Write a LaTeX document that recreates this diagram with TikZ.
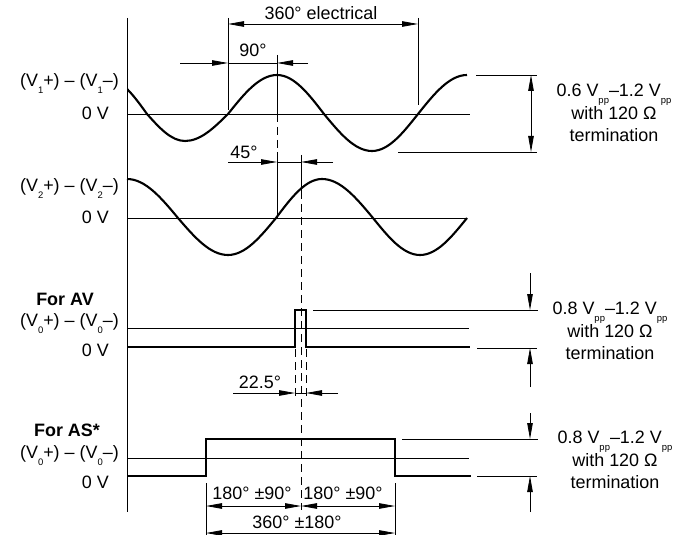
\documentclass[tikz,border=0pt]{standalone}
\usepackage{fontspec}
\setmainfont{Liberation Sans}
\usetikzlibrary{arrows.meta, positioning, calc}

\newcommand\lowsub[1]{\smash{\raisebox{-6.5bp}{\fontsize{9.5}{10}\selectfont #1}}}

\begin{document}
\begin{tikzpicture}[
  x=1bp, y=-1bp,
  font=\fontsize{18}{22.5}\selectfont,
  extline/.style={line width=0.8bp},
  wave/.style={line width=2.1bp, line join=round},
  pulse/.style={line width=2bp, line join=miter},
  refdash/.style={line width=0.8bp, dash pattern=on 8bp off 5bp},
  onearrow/.style={line width=0.8bp, -{Triangle[length=16bp,width=5.5bp]}},
  twoarrow/.style={line width=0.8bp, {Triangle[length=16bp,width=5.5bp]}-{Triangle[length=16bp,width=5.5bp]}},
  sig/.style={anchor=east, inner sep=0pt},
  lbl/.style={inner sep=0pt},
  rangelbl/.style={align=center, inner sep=0pt}
]
  \useasboundingbox (0,0) rectangle (689,535);

  % axis
  \draw[extline] (127,18) coordinate (axtop) -- (127,512) coordinate (axbot);

  % signal names
  \node[sig] (v1) at (119,82) {(V\lowsub{1}+) – (V\lowsub{1}–)};
  \node[sig] (z1) at (109,113) {0 V};
  \node[sig] (v2) at (119,187) {(V\lowsub{2}+) – (V\lowsub{2}–)};
  \node[sig] (z2) at (109,217) {0 V};
  \node[lbl, font=\fontsize{18}{22.5}\selectfont\bfseries] (av) at (65,299) {For AV};
  \node[sig] (v0a) at (119,322) {(V\lowsub{0}+) – (V\lowsub{0}–)};
  \node[sig] (z0a) at (109,350) {0 V};
  \node[lbl, font=\fontsize{18}{22.5}\selectfont\bfseries] (as) at (67,430) {For AS*};
  \node[sig] (v0b) at (119,454) {(V\lowsub{0}+) – (V\lowsub{0}–)};
  \node[sig] (z0b) at (109,482) {0 V};

  % channel 1
  \draw[extline] (127,114) -- (470,114);
  \begin{scope}
    \clip (127,40) rectangle (480,170);
    \draw[wave] (107,78.6) cos (147,114) sin (185,141) cos (228,114)
      sin (277,75) cos (324,114) sin (372,151) cos (418,114) sin (467,75);
  \end{scope}

  % channel 2
  \draw[extline] (127,218) -- (467,218);
  \draw[wave] (127,179) cos (178,218) sin (228,255) cos (276,218)
    sin (322,179) cos (373,218) sin (420,255) cos (467,218);

  % 360 deg electrical
  \coordinate (e1) at (228,24);
  \coordinate (e2) at (418,24);
  \draw[extline] (228,18) -- (228,110);
  \draw[extline] (418,18) -- (418,105);
  \draw[twoarrow] (e1) -- (e2);
  \node[lbl] (elec) at (321,13) {360° electrical};

  % 90 deg
  \draw[extline] (277,55) -- (277,114);
  \draw[refdash] (277,114) -- (277,152);
  \draw[extline] (277,152) -- (277,218);
  \draw[extline] (228,63) -- (277,63);
  \draw[onearrow] (180,63) -- (228,63);
  \draw[onearrow] (308,63) -- (277,63);
  \node[lbl] (ninety) at (253,50) {90°};

  % 45 deg
  \draw[extline] (301,155) -- (301,191);
  \draw[refdash] (301,191) -- (301,510);
  \draw[extline] (277,162) -- (301,162);
  \draw[onearrow] (228,162) -- (277,162);
  \draw[onearrow] (333,162) -- (301,162);
  \node[lbl] (fortyfive) at (244,152) {45°};

  % range channel 1
  \draw[extline] (476,75) -- (537,75);
  \draw[extline] (398,152) -- (537,152);
  \draw[twoarrow] (531,75) -- (531,152);
  \node[rangelbl] (r1) at (614,113) {0.6 V\lowsub{pp}–1.2 V\lowsub{pp}\\with 120 Ω\\termination};

  % AV index pulse
  \draw[extline] (127,328) -- (469,328);
  \draw[pulse] (127,347) -- (295,347) -- (295,310) -- (306,310) -- (306,347) -- (470,347);
  \draw[refdash] (295,349) -- (295,398);
  \draw[refdash] (306,349) -- (306,398);
  \draw[extline] (295,393) -- (306,393);
  \draw[onearrow] (233,393) -- (295,393);
  \draw[onearrow] (338,393) -- (306,393);
  \node[lbl] (twotwo) at (260,382) {22.5°};
  \draw[extline] (313,310) -- (538,310);
  \draw[extline] (477,348) -- (537,348);
  \draw[onearrow] (530,273) -- (530,310);
  \draw[onearrow] (530,387) -- (530,348);
  \node[rangelbl] (r2) at (610,331) {0.8 V\lowsub{pp}–1.2 V\lowsub{pp}\\with 120 Ω\\termination};

  % AS index pulse
  \draw[extline] (127,458) -- (469,458);
  \draw[pulse] (127,476) -- (206,476) -- (206,439) -- (395,439) -- (395,476) -- (471,476);
  \draw[extline] (402,439) -- (538,439);
  \draw[extline] (477,476) -- (537,476);
  \draw[onearrow] (530,413) -- (530,439);
  \draw[onearrow] (530,512) -- (530,476);
  \node[rangelbl] (r3) at (615,460) {0.8 V\lowsub{pp}–1.2 V\lowsub{pp}\\with 120 Ω\\termination};

  % width of AS pulse
  \draw[extline] (206,483) -- (206,535);
  \draw[extline] (395,483) -- (395,535);
  \draw[twoarrow] (206,506) -- (301,506);
  \draw[twoarrow] (301,506) -- (395,506);
  \draw[twoarrow] (206,533) -- (395,533);
  \node[lbl] (half1) at (252,493) {180° ±90°};
  \node[lbl] (half2) at (343,493) {180° ±90°};
  \node[lbl] (full) at (297,522) {360° ±180°};
\end{tikzpicture}
\end{document}
